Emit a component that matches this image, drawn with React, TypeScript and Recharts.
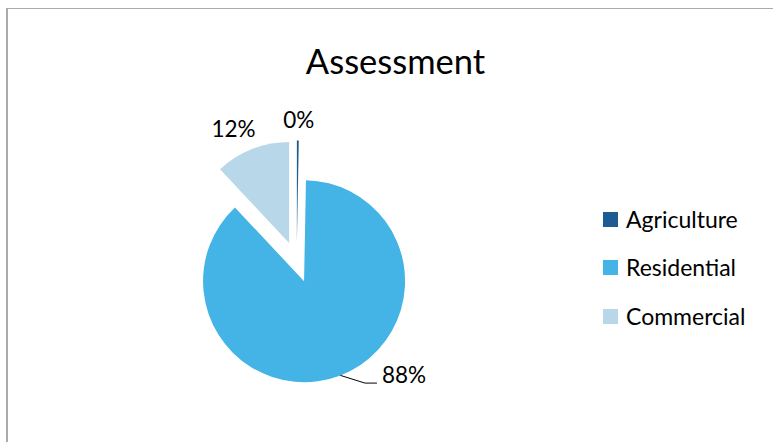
import React from "react";
import { PieChart, Pie, Cell, Legend } from "recharts";

const categories = ["Agriculture", "Residential", "Commercial"];
const shares = [0.3, 87.7, 12.0];
const colors = ["#1C5C93", "#43B4E5", "#B8D8EA"];
const chartTitle = "Assessment";

const data = categories.map((name, i) => ({ name, value: shares[i] }));

const W = 773;
const H = 442;
const CX = 296.7;
const CY = 262;
const R = 101;
const EXPLODE = 20.5;
const RAD = Math.PI / 180;
const FONT = "Lato, 'Noto Sans', sans-serif";

// label text anchor offsets (from slice edge point at mid angle)
const labelShift = [
  { dx: 1, dy: -12.5, leader: false },
  { dx: 0, dy: 0, leader: true },
  { dx: -18.5, dy: -12, leader: false },
];

const total = shares.reduce((a, b) => a + b, 0);
const midAngles = shares.map((v, i) => {
  const cum = shares.slice(0, i).reduce((a, b) => a + b, 0);
  return 90 - (360 * (cum + v / 2)) / total;
});

const makeLabel = (target: number) => (props: any) => {
  const { cx, cy, midAngle, outerRadius, percent, index } = props;
  if (index !== target) return null;
  const ex = cx + outerRadius * Math.cos(-midAngle * RAD);
  const ey = cy + outerRadius * Math.sin(-midAngle * RAD);
  const txt = `${Math.round(percent * 100)}%`;
  const s = labelShift[index];
  if (s.leader) {
    const mx = ex + 24.6;
    const my = ey + 7.7;
    const hx = mx + 12;
    return (
      <g>
        <polyline
          points={`${ex},${ey} ${mx},${my} ${hx},${my}`}
          fill="none"
          stroke="#000"
          strokeWidth={1}
        />
        <text x={hx + 5} y={my} textAnchor="start" fontFamily={FONT} fontSize={22.5} fill="#000">
          {txt}
        </text>
      </g>
    );
  }
  return (
    <text x={ex + s.dx} y={ey + s.dy} textAnchor="middle" fontFamily={FONT} fontSize={22.5} fill="#000">
      {txt}
    </text>
  );
};

const renderLegend = () => (
  <div style={{ fontFamily: FONT, fontSize: 23, color: "#000" }}>
    {categories.map((c, i) => (
      <div key={c} style={{ display: "flex", alignItems: "center", height: 48.5 }}>
        <div style={{ width: 15, height: 15, background: colors[i], marginRight: 8 }} />
        <span style={{ lineHeight: "23px" }}>{c}</span>
      </div>
    ))}
  </div>
);

export default function App() {
  return (
    <div style={{ position: "absolute", left: 0, top: 0, width: W, height: H, background: "#fff" }}>
      <div
        style={{
          position: "absolute",
          left: 6,
          top: 8,
          width: W,
          height: H,
          borderLeft: "2px solid #ABABAB",
          borderTop: "1px solid #ABABAB",
          boxSizing: "border-box",
        }}
      />
      <div
        style={{
          position: "absolute",
          left: 0,
          width: 2 * 395.5,
          top: 40,
          textAlign: "center",
          fontFamily: FONT,
          fontSize: 34.5,
          lineHeight: "42px",
          color: "#000",
        }}
      >
        {chartTitle}
      </div>
      <div style={{ position: "absolute", left: 0, top: 0 }}>
        <PieChart width={W} height={H} margin={{ top: 0, right: 0, bottom: 0, left: 0 }}>
          {categories.map((c, k) => {
            const dx = EXPLODE * Math.cos(-midAngles[k] * RAD);
            const dy = EXPLODE * Math.sin(-midAngles[k] * RAD);
            return (
              <Pie
                key={c}
                data={data}
                dataKey="value"
                nameKey="name"
                cx={CX + dx}
                cy={CY + dy}
                outerRadius={R}
                innerRadius={0}
                startAngle={90}
                endAngle={-270}
                isAnimationActive={false}
                labelLine={false}
                label={makeLabel(k)}
                legendType="none"
              >
                {data.map((d, i) => (
                  <Cell key={d.name} fill={i === k ? colors[i] : "none"} stroke="none" />
                ))}
              </Pie>
            );
          })}
          <Legend
            layout="vertical"
            align="right"
            verticalAlign="top"
            content={renderLegend}
            wrapperStyle={{ position: "absolute", left: 603, top: 195, width: 170 }}
          />
        </PieChart>
      </div>
    </div>
  );
}
